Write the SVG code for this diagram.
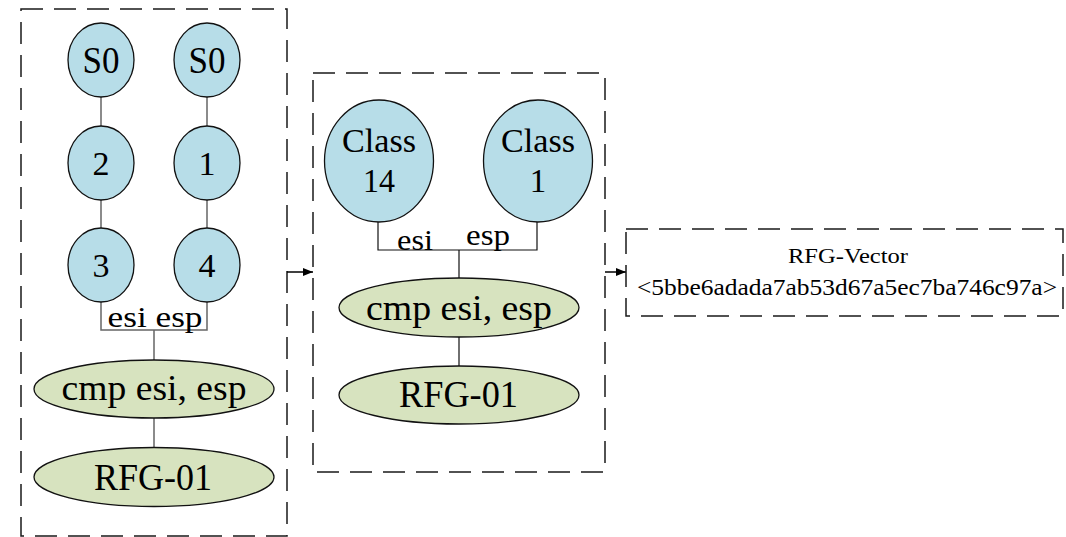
<svg xmlns="http://www.w3.org/2000/svg" width="1066" height="537" viewBox="0 0 1066 537">
  <style>
    .frame { fill: none; stroke: #1a1a1a; stroke-width: 1.5; stroke-dasharray: 22 11; }
    .state { fill: #b7dde8; stroke: #111; stroke-width: 1.3; }
    .instr { fill: #d7e3bf; stroke: #111; stroke-width: 1.3; }
    .lbl { font-family: "Liberation Serif", "Times New Roman", serif; fill: #000; text-anchor: middle; }
    .edge-g { fill: none; stroke: #666; stroke-width: 1.5; }
    .edge-k { fill: none; stroke: #111; stroke-width: 1.2; }
    .flow { fill: none; stroke: #000; stroke-width: 1.5; }
  </style>
  <defs>
    <marker id="arrow" viewBox="0 0 10 8" refX="10" refY="4" markerWidth="10" markerHeight="8" markerUnits="userSpaceOnUse" orient="auto">
      <path d="M0,0 L10,4 L0,8 z" fill="#000"/>
    </marker>
  </defs>

  <!-- frames -->
  <g id="frame-paths">
    <rect class="frame" x="21" y="9" width="266" height="527"/>
  </g>
  <g id="frame-classes">
    <rect class="frame" x="313" y="73" width="292" height="399"/>
  </g>

  <!-- connectors -->
  <g id="connectors">
    <path class="edge-g" d="M101,97 V126 M101,200 V228 M207,97 V126 M207,200 V228"/>
    <path class="edge-g" d="M101,302 V330 H207 V302 M154,330 V360 M154,418 V448"/>
    <path class="edge-k" d="M378,222 V250 H537 V222 M459,250 V278 M459,337 V366"/>
    <path class="flow" d="M287,272 H313" marker-end="url(#arrow)"/>
    <path class="flow" d="M605,272 H626" marker-end="url(#arrow)"/>
  </g>

  <!-- edge labels -->
  <g id="edge-labels">
    <text class="lbl" x="155" y="327" font-size="29" textLength="95" lengthAdjust="spacingAndGlyphs">esi esp</text>
    <text class="lbl" x="415" y="250" font-size="29" textLength="36" lengthAdjust="spacingAndGlyphs">esi</text>
    <text class="lbl" x="488" y="245" font-size="29" textLength="44" lengthAdjust="spacingAndGlyphs">esp</text>
  </g>

  <!-- left path nodes -->
  <g id="s0-a">
    <ellipse class="state" cx="101" cy="60" rx="33" ry="37"/>
    <text class="lbl" x="101" y="73" font-size="37" textLength="37" lengthAdjust="spacingAndGlyphs">S0</text>
  </g>
  <g id="s0-b">
    <ellipse class="state" cx="207" cy="60" rx="33" ry="37"/>
    <text class="lbl" x="207" y="73" font-size="37" textLength="37" lengthAdjust="spacingAndGlyphs">S0</text>
  </g>
  <g id="n2">
    <ellipse class="state" cx="101" cy="163" rx="33" ry="37"/>
    <text class="lbl" x="101" y="175" font-size="34">2</text>
  </g>
  <g id="n1">
    <ellipse class="state" cx="207" cy="163" rx="33" ry="37"/>
    <text class="lbl" x="207" y="175" font-size="34">1</text>
  </g>
  <g id="n3">
    <ellipse class="state" cx="101" cy="265" rx="33" ry="37"/>
    <text class="lbl" x="101" y="277" font-size="34">3</text>
  </g>
  <g id="n4">
    <ellipse class="state" cx="207" cy="265" rx="33" ry="37"/>
    <text class="lbl" x="207" y="277" font-size="34">4</text>
  </g>
  <g id="cmp-a">
    <ellipse class="instr" cx="154" cy="389" rx="120" ry="29"/>
    <text class="lbl" x="154" y="400" font-size="36" textLength="185" lengthAdjust="spacingAndGlyphs">cmp esi, esp</text>
  </g>
  <g id="rfg-a">
    <ellipse class="instr" cx="154" cy="477" rx="120" ry="29.5"/>
    <text class="lbl" x="153" y="490" font-size="38" textLength="118" lengthAdjust="spacingAndGlyphs">RFG-01</text>
  </g>

  <!-- class nodes -->
  <g id="class-14">
    <ellipse class="state" cx="379" cy="161" rx="54.5" ry="61"/>
    <text class="lbl" x="379" y="152" font-size="33" textLength="74" lengthAdjust="spacingAndGlyphs">Class</text>
    <text class="lbl" x="379" y="192" font-size="33" textLength="32" lengthAdjust="spacingAndGlyphs">14</text>
  </g>
  <g id="class-1">
    <ellipse class="state" cx="538" cy="161" rx="54.5" ry="61"/>
    <text class="lbl" x="538" y="152" font-size="33" textLength="74" lengthAdjust="spacingAndGlyphs">Class</text>
    <text class="lbl" x="538" y="192" font-size="33">1</text>
  </g>
  <g id="cmp-b">
    <ellipse class="instr" cx="459" cy="307.5" rx="120" ry="29.5"/>
    <text class="lbl" x="459" y="320" font-size="36" textLength="186" lengthAdjust="spacingAndGlyphs">cmp esi, esp</text>
  </g>
  <g id="rfg-b">
    <ellipse class="instr" cx="459" cy="395" rx="120" ry="29"/>
    <text class="lbl" x="458.5" y="407" font-size="38" textLength="119" lengthAdjust="spacingAndGlyphs">RFG-01</text>
  </g>

  <!-- vector output -->
  <g id="rfg-vector">
    <rect class="frame" x="626" y="229" width="437" height="87"/>
    <text class="lbl" x="848" y="263" font-size="22" textLength="120" lengthAdjust="spacingAndGlyphs">RFG-Vector</text>
    <text class="lbl" x="847" y="295" font-size="23" textLength="420" lengthAdjust="spacingAndGlyphs">&lt;5bbe6adada7ab53d67a5ec7ba746c97a&gt;</text>
  </g>
</svg>
